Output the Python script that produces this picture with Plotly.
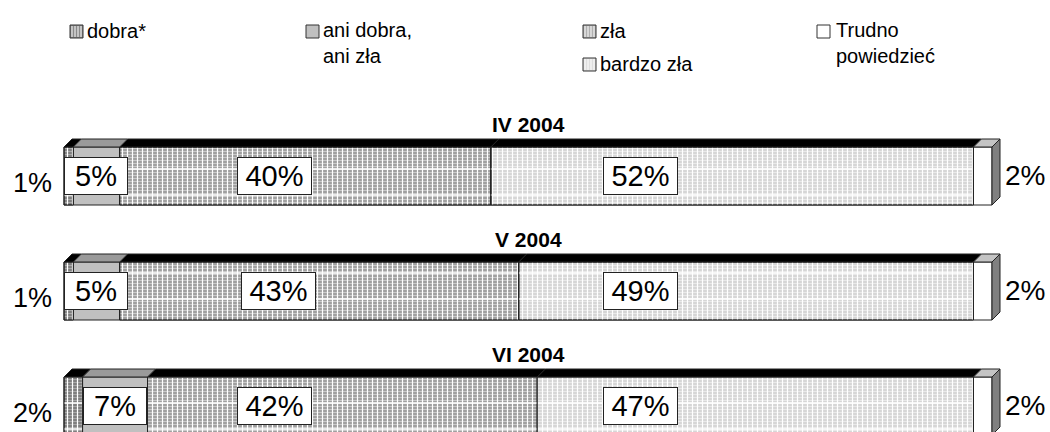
import plotly.graph_objects as go

# ---------------- data ----------------
periods = ["IV 2004", "V 2004", "VI 2004"]
categories = ["dobra*", "ani dobra,<br>ani zła", "zła", "bardzo zła", "Trudno<br>powiedzieć"]
dobra = [1, 1, 2]
ani_dobra_ani_zla = [5, 5, 7]
zla = [40, 43, 42]
bardzo_zla = [52, 49, 47]
trudno = [2, 2, 2]
series = [dobra, ani_dobra_ani_zla, zla, bardzo_zla, trudno]

# ---------------- layout / style constants ----------------
W, H = 1050, 432
PX_PER_UNIT = 9.28          # pixels per percentage point
X_ORIGIN_PX = 64            # pixel where 0 % sits
ROW0_PX = 176               # centre of first bar (pixels from top)
ROW_STEP_PX = 115
BAR_H = 58
DEPTH = 8                   # 3-D depth in pixels
DX = DEPTH / PX_PER_UNIT
FONT = "Arial, Liberation Sans, sans-serif"

front_colors = ["#8a8a8a", "#c0c0c0", "#b0b0b0", "#dedede", "#ffffff"]
# (dark stripe, light stripe) for the grid-patterned series, None = solid
stripes = [("#7a7a7a", "#a8a8a8"), None, ("#9c9c9c", "#cacaca"), ("#d4d4d4", "#e9e9e9"), None]
top_colors = ["#000000", "#9a9a9a", "#000000", "#000000", "#c4c4c4"]
side_color = "#808080"
# label anchors (in % units) for the two large segments
LABEL_X_ZLA = [22.7, 23.1, 22.7]
LABEL_X_BZ = [62.1, 62.1, 62.1]


def px2x(px):
    return (px - X_ORIGIN_PX) / PX_PER_UNIT


def paper_x(px):
    return px / W


def paper_y(py):
    return 1 - py / H


rows = [ROW0_PX + ROW_STEP_PX * i for i in range(len(periods))]

# cumulative bases
bases = []
acc = [0.0] * len(periods)
for s in series:
    bases.append(list(acc))
    acc = [a + v for a, v in zip(acc, s)]
totals = acc

fig = go.Figure()

# front faces
for k, s in enumerate(series):
    marker = dict(color=front_colors[k], line=dict(color="#222222", width=1))
    if stripes[k]:
        dark, light = stripes[k]
        marker["pattern"] = dict(shape="-", fgcolor=light, bgcolor=dark, size=3,
                                 solidity=0.4, fillmode="replace")
    fig.add_trace(go.Bar(orientation="h", x=s, base=bases[k], y=rows, width=BAR_H,
                         marker=marker, name=categories[k], hoverinfo="skip"))

# grid overlay: white vertical lines + sparse white horizontal lines (transparent background)
for k in (0, 2, 3):
    fig.add_trace(go.Bar(orientation="h", x=series[k], base=bases[k], y=rows, width=BAR_H,
                         marker=dict(color="white", line=dict(width=0),
                                     pattern=dict(shape="|", fgcolor="white",
                                                  bgcolor="rgba(0,0,0,0)", size=5,
                                                  solidity=0.24, fillmode="replace")),
                         hoverinfo="skip"))
    fig.add_trace(go.Bar(orientation="h", x=series[k], base=bases[k], y=rows, width=BAR_H,
                         marker=dict(color="white", line=dict(width=0),
                                     pattern=dict(shape="-", fgcolor="white",
                                                  bgcolor="rgba(0,0,0,0)", size=26,
                                                  solidity=0.06, fillmode="replace")),
                         hoverinfo="skip"))
    # re-draw outline on top
    fig.add_trace(go.Bar(orientation="h", x=series[k], base=bases[k], y=rows, width=BAR_H,
                         marker=dict(color="rgba(0,0,0,0)", line=dict(color="#222222", width=1)),
                         hoverinfo="skip"))

# top faces (grouped by colour)
groups = {}
for k, s in enumerate(series):
    for i, v in enumerate(s):
        b = bases[k][i]
        top = rows[i] - BAR_H / 2
        xs = [b, b + v, b + v + DX, b + DX, b, None]
        ys = [top, top, top - DEPTH, top - DEPTH, top, None]
        gx, gy = groups.setdefault(top_colors[k], ([], []))
        gx.extend(xs)
        gy.extend(ys)
for col, (gx, gy) in groups.items():
    fig.add_trace(go.Scatter(x=gx, y=gy, mode="lines", fill="toself", fillcolor=col,
                             line=dict(color="#222222", width=1), hoverinfo="skip"))

# right side faces
sx, sy = [], []
for i, t in enumerate(totals):
    top = rows[i] - BAR_H / 2
    bot = rows[i] + BAR_H / 2
    sx += [t, t + DX, t + DX, t, t, None]
    sy += [top, top - DEPTH, bot - DEPTH, bot, top, None]
fig.add_trace(go.Scatter(x=sx, y=sy, mode="lines", fill="toself", fillcolor=side_color,
                         line=dict(color="#222222", width=1), hoverinfo="skip"))

annotations = []
for i, p in enumerate(periods):
    c = rows[i]
    top = c - BAR_H / 2
    annotations.append(dict(x=50, y=top - DEPTH - 15, text="<b>%s</b>" % p, showarrow=False,
                            xanchor="center", yanchor="middle",
                            font=dict(family=FONT, size=21, color="black")))
    annotations.append(dict(x=px2x(54), y=c + 7, text="%d%%" % dobra[i], showarrow=False,
                            xanchor="right", yanchor="middle",
                            font=dict(family=FONT, size=27, color="black")))
    annotations.append(dict(x=totals[i] + DX + px2x(X_ORIGIN_PX + 3), y=c - 1,
                            text="%d%%" % trudno[i], showarrow=False,
                            xanchor="left", yanchor="middle",
                            font=dict(family=FONT, size=28, color="black")))
    inside = [
        (bases[1][i] + ani_dobra_ani_zla[i] / 2, ani_dobra_ani_zla[i]),
        (LABEL_X_ZLA[i], zla[i]),
        (LABEL_X_BZ[i], bardzo_zla[i]),
    ]
    for xv, val in inside:
        txt = "%d%%" % val
        annotations.append(dict(x=xv, y=c, text=txt, showarrow=False,
                                xanchor="center", yanchor="middle",
                                width=62 if len(txt) == 2 else 73, height=36,
                                bgcolor="white", bordercolor="#222222", borderwidth=1,
                                borderpad=0,
                                font=dict(family=FONT, size=29, color="black")))

# legend (drawn manually)
legend_items = [
    (0, 70, 25, 85, 31),
    (1, 306, 25, 321, 43),
    (2, 583, 25, 598, 31),
    (3, 583, 58, 598, 64),
    (4, 817, 25, 834, 43),
]
shapes = []
for k, kx, ky, tx, ty in legend_items:
    shapes.append(dict(type="rect", xref="paper", yref="paper",
                       x0=paper_x(kx), x1=paper_x(kx + 13), y0=paper_y(ky), y1=paper_y(ky + 13),
                       fillcolor=front_colors[k], line=dict(color="#333333", width=1)))
    if stripes[k]:
        path = ""
        for xx in range(kx + 2, kx + 13, 3):
            path += "M%f,%f L%f,%f " % (paper_x(xx), paper_y(ky + 1), paper_x(xx), paper_y(ky + 12))
        shapes.append(dict(type="path", xref="paper", yref="paper", path=path,
                           line=dict(color="white", width=1)))
    annotations.append(dict(xref="paper", yref="paper", x=paper_x(tx), y=paper_y(ty),
                            text=categories[k], showarrow=False, align="left",
                            xanchor="left", yanchor="middle",
                            font=dict(family=FONT, size=20, color="black")))

fig.update_layout(
    width=W, height=H, autosize=False,
    margin=dict(l=0, r=0, t=0, b=0),
    paper_bgcolor="white", plot_bgcolor="white",
    barmode="overlay", showlegend=False, hovermode=False,
    xaxis=dict(range=[px2x(0), px2x(W)], visible=False, fixedrange=True),
    yaxis=dict(range=[H, 0], visible=False, fixedrange=True),
    annotations=annotations, shapes=shapes,
)

fig.write_html("out.html", config={"displayModeBar": False},
               post_script="document.body.style.margin='0';document.body.style.overflow='hidden';")
